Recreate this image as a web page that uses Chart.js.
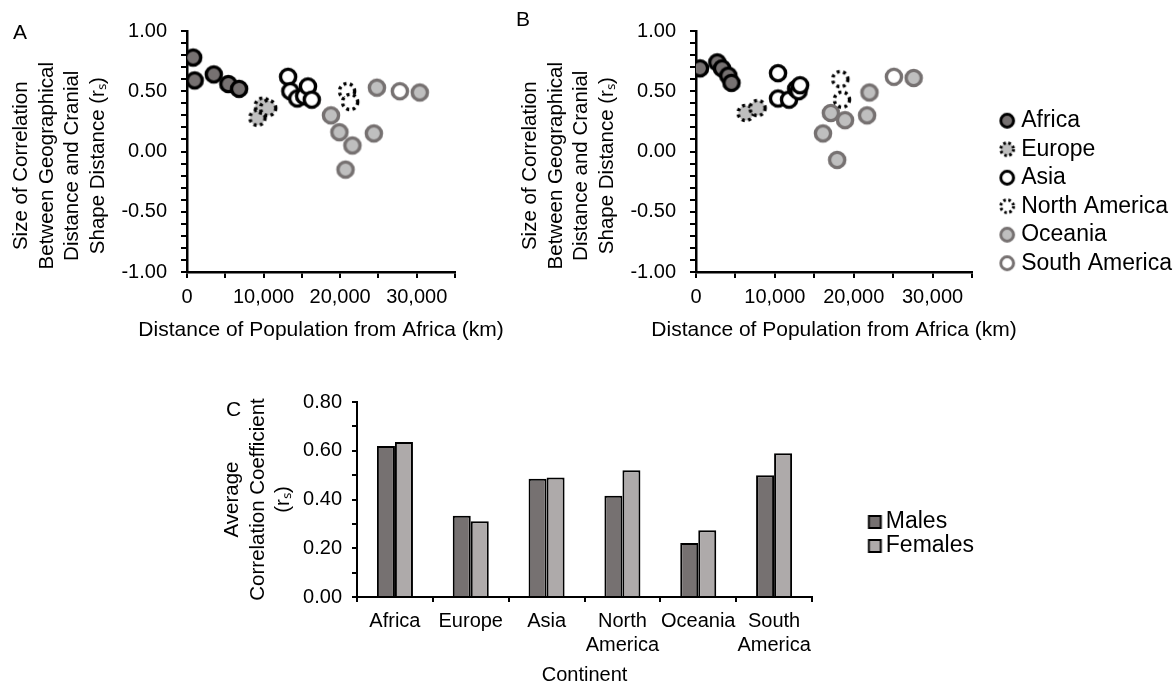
<!DOCTYPE html>
<html>
<head>
<meta charset="utf-8">
<script src="https://cdn.jsdelivr.net/npm/chart.js@4.4.0/dist/chart.umd.min.js"></script>
<style>
  body { margin: 0; background: #fff; }
  #page { position: relative; width: 1175px; height: 690px; overflow: hidden; font-family: 'Liberation Sans', Arial, sans-serif; }
  #page canvas { position: absolute; }
  .tag { position: absolute; font-size: 21px; line-height: 1; color: #000; }
</style>
</head>
<body>
<div id="page">
  <canvas id="chartA" width="509" height="353" style="left:0;top:0"></canvas>
  <canvas id="chartB" width="673" height="353" style="left:509px;top:0"></canvas>
  <canvas id="chartC" width="784" height="312" style="left:200px;top:378px"></canvas>
  <div class="tag" style="left:13px;top:21px">A</div>
  <div class="tag" style="left:516px;top:8px">B</div>
  <div class="tag" style="left:226px;top:398px">C</div>
</div>
<script>
// Figure: cranial shape vs geographic distance, panels A/B (scatter) and C (bars)

const continents = ['Africa', 'Europe', 'Asia', 'North America', 'Oceania', 'South America'];

// Panel A - distance from Africa (km) and r_s per population
const aAfricaKm = [800, 1000, 3500, 5400, 6800];
const aAfricaRs = [0.78, 0.59, 0.64, 0.56, 0.52];
const aEuropeKm = [9200, 9900, 10600];
const aEuropeRs = [0.28, 0.38, 0.36];
const aAsiaKm = [13200, 13500, 14400, 15300, 15800, 16300];
const aAsiaRs = [0.62, 0.5, 0.44, 0.46, 0.54, 0.43];
const aNorthAmKm = [20900, 21300];
const aNorthAmRs = [0.5, 0.41];
const aOceaniaKm = [18800, 19900, 21600, 20700, 24400, 24800, 30400];
const aOceaniaRs = [0.3, 0.16, 0.05, -0.15, 0.15, 0.53, 0.49];
const aSouthAmKm = [27800];
const aSouthAmRs = [0.5];

// Panel B
const bAfricaKm = [500, 2700, 3300, 4100, 4500];
const bAfricaRs = [0.69, 0.74, 0.69, 0.63, 0.57];
const bEuropeKm = [6300, 7800];
const bEuropeRs = [0.32, 0.36];
const bAsiaKm = [10400, 10400, 11800, 12700, 13000, 13200];
const bAsiaRs = [0.65, 0.44, 0.43, 0.52, 0.5, 0.55];
const bNorthAmKm = [18300, 18500];
const bNorthAmRs = [0.6, 0.43];
const bOceaniaKm = [17100, 18900, 16100, 21700, 22000, 17900, 27600];
const bOceaniaRs = [0.32, 0.26, 0.15, 0.3, 0.49, -0.07, 0.61];
const bSouthAmKm = [25100];
const bSouthAmRs = [0.62];

// Panel C - average correlation by continent
const barLabels = ['Africa', 'Europe', 'Asia', ['North', 'America'], 'Oceania', ['South', 'America']];
const malesMean = [0.62, 0.333, 0.485, 0.415, 0.222, 0.5];
const femalesMean = [0.636, 0.311, 0.49, 0.52, 0.274, 0.59];

// tick labels
const kmTicks = [0, 10000, 20000, 30000];
const rsTicks = [-1, -0.5, 0, 0.5, 1];
const barTicks = [0, 0.2, 0.4, 0.6, 0.8];

const FONT = "'Liberation Sans', Arial, sans-serif";
Chart.defaults.font.family = FONT;
Chart.defaults.color = '#000';
Chart.defaults.animation = false;

const DARK = '#767171';
const LIGHT = '#bfbfbf';
const PALE = '#aeaaaa';

const isTick = (list, v) => list.some((t) => Math.abs(t - v) < 1e-6);
const withCommas = (v) => String(v).replace(/\B(?=(\d{3})+(?!\d))/g, ',');

const drawMarker = (size, r, lw, fill, stroke, dash) => {
  const c = document.createElement('canvas');
  c.width = size;
  c.height = size;
  const g = c.getContext('2d');
  g.beginPath();
  g.arc(size / 2, size / 2, r, 0, Math.PI * 2);
  g.fillStyle = fill;
  g.fill();
  g.lineWidth = lw;
  g.strokeStyle = stroke;
  if (dash) g.setLineDash(dash);
  g.stroke();
  return c;
};

// legend swatch: square sits right of the image centre so it clears the text
const drawSquare = (fill) => {
  const c = document.createElement('canvas');
  c.width = 40;
  c.height = 16;
  const g = c.getContext('2d');
  g.fillStyle = fill;
  g.fillRect(17.5, 2, 12, 12);
  g.lineWidth = 2;
  g.strokeStyle = '#000';
  g.strokeRect(17.5, 2, 12, 12);
  return c;
};

// fill, outline, dotted outline
const markerLooks = [
  [DARK, '#000', null],
  [LIGHT, '#000', [3, 3.4]],
  ['#fff', '#000', null],
  ['#fff', '#000', [3, 3.4]],
  [LIGHT, DARK, null],
  ['#fff', DARK, null],
];
const plotMarkers = markerLooks.map(([f, s, d]) => drawMarker(24, 7.6, 3.4, f, s, d));
const legendMarkers = markerLooks.map(([f, s, d]) => drawMarker(20, 6.4, 3, f, s, d && [2.5, 2.6]));
const barMarkers = [drawSquare(DARK), drawSquare(PALE)];

// trailing spaces push the block a little lower, like the original
const rsTitle = ['Size of Correlation', 'Between Geographical', 'Distance and Cranial', 'Shape Distance (rₛ)'].map(
  (s) => s + '     '
);

// x caption is wider than the axis, so draw it without Chart.js squeezing it
const axisCaption = {
  id: 'axisCaption',
  afterDraw(chart, args, opts) {
    const { ctx, chartArea } = chart;
    ctx.save();
    ctx.fillStyle = '#000';
    ctx.font = opts.size + 'px ' + FONT;
    ctx.textAlign = 'center';
    ctx.textBaseline = 'middle';
    ctx.fillText(opts.text, (chartArea.left + chartArea.right) / 2, opts.y);
    ctx.restore();
  },
};

const hiddenAxis = (position, fit) => ({
  type: 'linear',
  position: position,
  grid: { display: false },
  border: { display: false },
  ticks: { display: false },
  afterFit: fit,
});

const scatterChart = (canvasId, kmLists, rsLists, withLegend) => {
  const datasets = continents.map((name, i) => ({
    label: name,
    data: kmLists[i].map((km, j) => ({ x: km, y: rsLists[i][j] })),
    pointStyle: plotMarkers[i],
    pointRadius: 10,
    pointHoverRadius: 10,
  }));

  const scales = {
    x: {
      type: 'linear',
      min: 0,
      max: 35000,
      afterFit: (s) => { s.height = 81; },
      border: { color: '#000', width: 2.5 },
      grid: { drawOnChartArea: false, color: '#000', lineWidth: 2, tickLength: 6 },
      ticks: {
        stepSize: 5000,
        autoSkip: false,
        maxRotation: 0,
        padding: 7.5,
        font: { size: 20 },
        callback: (v) => (isTick(kmTicks, v) ? withCommas(v) : ''),
      },
    },
    y: {
      min: -1,
      max: 1,
      afterFit: (s) => { s.width = 187; },
      border: { color: '#000', width: 2.5 },
      grid: { drawOnChartArea: false, color: '#000', lineWidth: 2, tickLength: 6 },
      ticks: {
        stepSize: 0.1,
        autoSkip: false,
        padding: 14,
        font: { size: 20 },
        callback: (v) => (isTick(rsTicks, v) ? (Math.abs(v) < 1e-6 ? 0 : v).toFixed(2) : ''),
      },
      title: {
        display: true,
        text: rsTitle,
        font: { size: 20.5, lineHeight: 1.25 },
        padding: { top: 8.5, bottom: 0 },
      },
    },
  };

  if (withLegend) {
    // keeps the plot area clear of the legend column
    scales.yPad = hiddenAxis('right', (s) => {
      s.width = Math.max(0, s.chart.width - s.chart.legend.width - 463);
    });
  }

  return new Chart(document.getElementById(canvasId), {
    type: 'scatter',
    data: { datasets },
    plugins: [axisCaption],
    options: {
      responsive: false,
      layout: { padding: { top: 31, left: 0, right: withLegend ? 0 : 54, bottom: 0 } },
      scales,
      plugins: {
        tooltip: { enabled: false },
        axisCaption: { text: 'Distance of Population from Africa (km)', size: 21, y: 330 },
        legend: {
          display: withLegend,
          position: 'right',
          maxWidth: 400,
          labels: {
            usePointStyle: true,
            pointStyleWidth: 5,
            padding: 5.5,
            color: '#000',
            font: { size: 23 },
            generateLabels: (chart) =>
              Chart.defaults.plugins.legend.labels
                .generateLabels(chart)
                .map((item, i) => ({ ...item, pointStyle: legendMarkers[i] })),
          },
        },
      },
    },
  });
};

scatterChart(
  'chartA',
  [aAfricaKm, aEuropeKm, aAsiaKm, aNorthAmKm, aOceaniaKm, aSouthAmKm],
  [aAfricaRs, aEuropeRs, aAsiaRs, aNorthAmRs, aOceaniaRs, aSouthAmRs],
  false
);

scatterChart(
  'chartB',
  [bAfricaKm, bEuropeKm, bAsiaKm, bNorthAmKm, bOceaniaKm, bSouthAmKm],
  [bAfricaRs, bEuropeRs, bAsiaRs, bNorthAmRs, bOceaniaRs, bSouthAmRs],
  true
);

new Chart(document.getElementById('chartC'), {
  type: 'bar',
  data: {
    labels: barLabels,
    datasets: [
      {
        label: 'Males',
        data: malesMean,
        backgroundColor: DARK,
        borderColor: '#000',
        borderWidth: 2,
      },
      {
        label: 'Females',
        data: femalesMean,
        backgroundColor: PALE,
        borderColor: '#000',
        borderWidth: 2,
      },
    ],
  },
  options: {
    responsive: false,
    layout: { padding: 0 },
    datasets: { bar: { categoryPercentage: 0.475, barPercentage: 1 } },
    scales: {
      x: {
        afterFit: (s) => { s.height = 93; },
        border: { color: '#000', width: 2 },
        grid: { drawOnChartArea: false, color: '#000', lineWidth: 2, tickLength: 5 },
        ticks: { autoSkip: false, maxRotation: 0, padding: 7, font: { size: 20 } },
        title: { display: true, text: 'Continent', font: { size: 20 }, padding: { top: 0, bottom: 3 } },
      },
      y: {
        min: 0,
        max: 0.8,
        afterFit: (s) => { s.width = 157; },
        border: { color: '#000', width: 2 },
        grid: { drawOnChartArea: false, color: '#000', lineWidth: 2, tickLength: 5 },
        ticks: {
          stepSize: 0.1,
          autoSkip: false,
          padding: 10,
          font: { size: 20 },
          callback: (v) => (isTick(barTicks, v) ? v.toFixed(2) : ''),
        },
        title: {
          display: true,
          text: ['Average', 'Correlation Coefficient', '(rₛ)'],
          font: { size: 20.5, lineHeight: 1.25 },
          padding: { top: 19.5, bottom: 0 },
        },
      },
      xTop: hiddenAxis('top', (s) => { s.height = 24; }),
      yPad: hiddenAxis('right', (s) => {
        s.width = Math.max(0, s.chart.width - s.chart.legend.width - 612);
      }),
    },
    plugins: {
      tooltip: { enabled: false },
      legend: {
        position: 'right',
        maxWidth: 400,
        labels: {
          usePointStyle: true,
          pointStyleWidth: 6,
          padding: 1,
          color: '#000',
          font: { size: 23 },
          generateLabels: (chart) =>
            Chart.defaults.plugins.legend.labels
              .generateLabels(chart)
              .map((item, i) => ({ ...item, pointStyle: barMarkers[i] })),
        },
      },
    },
  },
});
</script>
</body>
</html>
